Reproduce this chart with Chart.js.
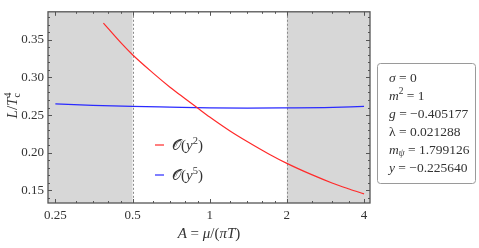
<!DOCTYPE html>
<html>
<head>
<meta charset="utf-8">
<script src="https://cdn.jsdelivr.net/npm/chart.js@4.4.0/dist/chart.umd.min.js"></script>
<style>
  html, body { margin: 0; padding: 0; background: #fff; }
  #wrap { width: 479px; height: 248px; }
</style>
</head>
<body>
<div id="wrap"><canvas id="myChart" width="479" height="248"></canvas></div>
<script>
// data
const redA = [0.385, 0.45, 0.5, 0.6, 0.7, 0.8, 0.9, 1, 1.2, 1.4, 1.7, 2, 2.5, 3, 3.5, 4];
const redL = [0.372, 0.346, 0.330, 0.306, 0.287, 0.272, 0.259, 0.2475, 0.229, 0.215, 0.1985, 0.186, 0.171, 0.160, 0.152, 0.1455];
const blueA = [0.25, 0.35, 0.5, 0.7, 1, 1.4, 2, 2.8, 4];
const blueL = [0.265, 0.263, 0.2615, 0.2605, 0.2595, 0.2592, 0.2595, 0.2600, 0.2615];

const xTicks = [0.25, 0.5, 1, 2, 4];
const xMinor = [0.3, 0.35, 0.4, 0.45, 0.6, 0.7, 0.8, 0.9, 1.2, 1.4, 1.6, 1.8, 2.5, 3, 3.5];
const yTicks = [0.15, 0.20, 0.25, 0.30, 0.35];
const yMinor = [0.14, 0.16, 0.17, 0.18, 0.19, 0.21, 0.22, 0.23, 0.24, 0.26, 0.27, 0.28, 0.29, 0.31, 0.32, 0.33, 0.34, 0.36, 0.37, 0.38];
const shadeEdges = [0.5, 2];

const serif = '"Liberation Serif", "DejaVu Serif", serif';

function pts(xs, ys) {
    return xs.map((x, i) => ({ x: x, y: ys[i] }));
}

// text with sub/superscripts: parts = [[text, 'n'|'sup'|'sub', italic]]
function drawParts(ctx, x, y, parts, size) {
    for (const p of parts) {
        const small = p[1] !== 'n';
        const fs = small ? size * 0.7 : size;
        ctx.font = (p[2] ? 'italic ' : '') + fs + 'px ' + serif;
        const dy = p[1] === 'sup' ? -size * 0.38 : (p[1] === 'sub' ? size * 0.22 : 0);
        ctx.fillText(p[0], x, y + dy);
        x += ctx.measureText(p[0]).width;
    }
    return x;
}

function partsWidth(ctx, parts, size) {
    let w = 0;
    for (const p of parts) {
        const fs = p[1] !== 'n' ? size * 0.7 : size;
        ctx.font = (p[2] ? 'italic ' : '') + fs + 'px ' + serif;
        w += ctx.measureText(p[0]).width;
    }
    return w;
}

const decorPlugin = {
    id: 'decor',
    beforeDatasetsDraw(chart) {
        const ctx = chart.ctx;
        const a = chart.chartArea;
        const xs = chart.scales.x;
        const x1 = xs.getPixelForValue(shadeEdges[0]);
        const x2 = xs.getPixelForValue(shadeEdges[1]);
        ctx.save();
        ctx.fillStyle = '#d7d7d7';
        ctx.fillRect(a.left, a.top, x1 - a.left, a.bottom - a.top);
        ctx.fillRect(x2, a.top, a.right - x2, a.bottom - a.top);
        ctx.strokeStyle = '#8a8a8a';
        ctx.lineWidth = 1;
        ctx.setLineDash([2, 2]);
        for (const x of [x1, x2]) {
            ctx.beginPath();
            ctx.moveTo(Math.round(x) + 0.5, a.top);
            ctx.lineTo(Math.round(x) + 0.5, a.bottom);
            ctx.stroke();
        }
        ctx.restore();
    },
    afterDatasetsDraw(chart) {
        const ctx = chart.ctx;
        const a = chart.chartArea;
        const xs = chart.scales.x;
        const ys = chart.scales.y;
        ctx.save();
        // ticks pointing inwards
        ctx.strokeStyle = '#555';
        ctx.lineWidth = 1;
        const tick = (x0, y0, x1, y1) => {
            ctx.beginPath();
            ctx.moveTo(x0, y0);
            ctx.lineTo(x1, y1);
            ctx.stroke();
        };
        for (const v of xTicks) {
            const x = Math.round(xs.getPixelForValue(v)) + 0.5;
            tick(x, a.bottom, x, a.bottom - 4);
            tick(x, a.top, x, a.top + 4);
        }
        for (const v of xMinor) {
            const x = Math.round(xs.getPixelForValue(v)) + 0.5;
            tick(x, a.bottom, x, a.bottom - 2);
            tick(x, a.top, x, a.top + 2);
        }
        for (const v of yTicks) {
            const y = Math.round(ys.getPixelForValue(v)) + 0.5;
            tick(a.left, y, a.left + 4, y);
            tick(a.right, y, a.right - 4, y);
        }
        for (const v of yMinor) {
            const y = Math.round(ys.getPixelForValue(v)) + 0.5;
            tick(a.left, y, a.left + 2, y);
            tick(a.right, y, a.right - 2, y);
        }
        // frame
        ctx.strokeStyle = '#555';
        ctx.lineWidth = 1.3;
        ctx.strokeRect(a.left, a.top, a.right - a.left, a.bottom - a.top);

        ctx.fillStyle = '#333';
        ctx.textBaseline = 'alphabetic';
        ctx.textAlign = 'left';

        // x title
        const xt = [['A', 'n', true], [' = ', 'n', false], ['μ', 'n', true], ['/(', 'n', false], ['π', 'n', true], ['T', 'n', true], [')', 'n', false]];
        const xw = partsWidth(ctx, xt, 15);
        drawParts(ctx, (a.left + a.right) / 2 - xw / 2, 238, xt, 15);

        // y title, rotated
        ctx.save();
        ctx.translate(17, 105);
        ctx.rotate(-Math.PI / 2);
        const yt = [['L', 'n', true], ['/', 'n', false], ['T', 'n', true]];
        const yw = partsWidth(ctx, yt, 15) + 6;
        let px = drawParts(ctx, -yw / 2, 0, yt, 15);
        ctx.font = '10px ' + serif;
        ctx.fillText('4', px, -6);
        ctx.fillText('c', px, 3);
        ctx.restore();

        // legend in plot
        const legend = [['2', chart.data.datasets[0].borderColor], ['5', chart.data.datasets[1].borderColor]];
        legend.forEach((item, i) => {
            const ly = 145 + i * 30;
            ctx.strokeStyle = item[1];
            ctx.lineWidth = 1.2;
            tick(155, ly, 164, ly);
            ctx.fillStyle = '#333';
            drawParts(ctx, 172, ly + 5, [['𝒪', 'n', false], ['(', 'n', false], ['y', 'n', true], [item[0], 'sup', false], [')', 'n', false]], 15);
        });

        // parameter box
        ctx.strokeStyle = '#9a9a9a';
        ctx.lineWidth = 1;
        ctx.beginPath();
        ctx.roundRect(377.5, 63.5, 98, 120, 3);
        ctx.stroke();
        const rows = [
            [['σ', 'n', true], [' = 0', 'n', false]],
            [['m', 'n', true], ['2', 'sup', false], [' = 1', 'n', false]],
            [['g', 'n', true], [' = −0.405177', 'n', false]],
            [['λ', 'n', false], [' = 0.021288', 'n', false]],
            [['m', 'n', true], ['ψ', 'sub', true], [' = 1.799126', 'n', false]],
            [['y', 'n', true], [' = −0.225640', 'n', false]]
        ];
        ctx.fillStyle = '#333';
        rows.forEach((r, i) => drawParts(ctx, 389, 81.5 + i * 18, r, 13.5));
        ctx.restore();
    }
};

const ctx = document.getElementById('myChart').getContext('2d');

new Chart(ctx, {
    type: 'line',
    data: {
        datasets: [{
            label: 'O(y^2)',
            data: pts(redA, redL),
            borderColor: '#ff2a2a',
            borderWidth: 1.2,
            pointRadius: 0,
            cubicInterpolationMode: 'monotone',
            fill: false
        }, {
            label: 'O(y^5)',
            data: pts(blueA, blueL),
            borderColor: '#2a2aff',
            borderWidth: 1.2,
            pointRadius: 0,
            cubicInterpolationMode: 'monotone',
            fill: false
        }]
    },
    options: {
        responsive: false,
        animation: false,
        layout: { padding: { top: 4, right: 109, left: 0, bottom: 0 } },
        plugins: {
            legend: { display: false },
            tooltip: { enabled: false }
        },
        scales: {
            x: {
                type: 'logarithmic',
                min: 0.234,
                max: 4.22,
                afterFit: (s) => { s.height = 45; },
                afterBuildTicks: (s) => { s.ticks = xTicks.map(v => ({ value: v })); },
                grid: { display: false, drawTicks: false },
                border: { display: false },
                ticks: {
                    padding: 5,
                    color: '#333',
                    font: { family: serif, size: 13 },
                    maxRotation: 0,
                    autoSkip: false,
                    callback: (v) => String(v)
                }
            },
            y: {
                min: 0.1334,
                max: 0.387,
                afterFit: (s) => { s.width = 48; },
                afterBuildTicks: (s) => { s.ticks = yTicks.map(v => ({ value: v })); },
                grid: { display: false, drawTicks: false },
                border: { display: false },
                ticks: {
                    padding: 4,
                    color: '#333',
                    font: { family: serif, size: 13 },
                    callback: (v) => v.toFixed(2)
                }
            }
        }
    },
    plugins: [decorPlugin]
});
</script>
</body>
</html>
